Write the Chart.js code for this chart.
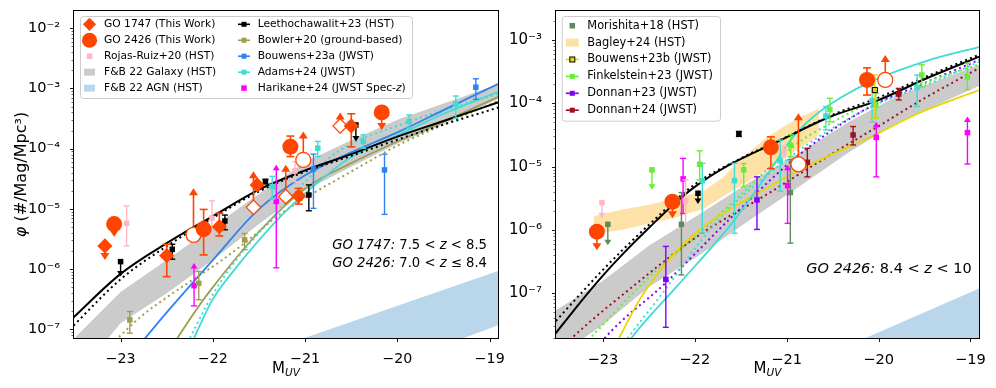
<!DOCTYPE html>
<html><head><meta charset="utf-8">
<script src="https://cdn.jsdelivr.net/npm/chart.js@4.4.1/dist/chart.umd.min.js"></script>
<style>
html,body{margin:0;padding:0;background:#fff;}
#wrap{position:relative;width:996px;height:388px;overflow:hidden;background:#fff;}
canvas{position:absolute;top:0;}
</style>
</head><body>
<div id="wrap">
<canvas id="c1" width="520" height="388" style="left:0"></canvas>
<canvas id="c2" width="496" height="388" style="left:500px"></canvas>
</div>
<script>
// ---------- axes ----------
const X_TICKS = [-23, -22, -21, -20, -19];
const L_XLIM = [-23.505, -18.91];
const L_YLIM_LOG = [-7.145, -1.713];
const R_XLIM = [-23.51, -18.907];
const R_YLIM_LOG = [-7.706, -2.542];

// ---------- LEFT panel points: [M_UV, phi, lower, upper, kind] ----------
// kind: 'e' error bar, 'u' upper limit (arrow down to lower), 'l' lower limit (arrow up to upper), 'ea' error bar with arrow on top
const L_GO1747 = [
  [-23.17, 2.42e-6, 1.42e-6, null, 'u'],
  [-22.50, 1.67e-6, 7.5e-7, 2.58e-6, 'e'],
  [-21.93, 5.07e-6, 3.55e-6, 8.5e-6, 'e'],
  [-21.52, 2.5e-5, null, null, ''],
  [-21.07, 1.64e-5, 1.2e-5, 2.19e-5, 'e'],
  [-20.50, 2.39e-4, 1.07e-4, 3.8e-4, 'e']
];
const L_GO1747_LIM = [
  [-21.56, 1.06e-5, null, 4.2e-5, 'l'],
  [-21.21, 1.6e-5, null, 5.4e-5, 'l'],
  [-20.62, 2.39e-4, null, 4.0e-4, 'l']
];
const L_GO2426 = [
  [-23.07, 5.6e-6, 3.4e-6, null, 'u'],
  [-22.10, 4.6e-6, 1.72e-6, 9.8e-6, 'e'],
  [-21.16, 1.08e-4, 7.4e-5, 1.62e-4, 'e'],
  [-20.17, 4.0e-4, 2.04e-4, null, 'u']
];
const L_GO2426_LIM = [
  [-22.21, 3.7e-6, null, 2.2e-5, 'l'],
  [-21.02, 6.5e-5, null, 1.92e-4, 'l']
];
const L_ROJAS = [
  [-22.935, 5.77e-6, 2.42e-6, 1.12e-5, 'e'],
  [-22.01, 7.0e-6, 3.05e-6, 1.36e-5, 'e'],
  [-21.11, 4.27e-5, 2.83e-5, 6.1e-5, 'e']
];
const L_LEETH = [
  [-23.0, 1.33e-6, 7.5e-7, null, 'u'],
  [-22.44, 2.13e-6, 1.46e-6, 2.58e-6, 'e'],
  [-21.87, 6.3e-6, 4.5e-6, 7.9e-6, 'e'],
  [-21.43, 2.84e-5, 2.6e-5, 3.1e-5, 'e'],
  [-20.96, 1.7e-5, 9.3e-6, 2.5e-5, 'e'],
  [-20.45, 2.48e-4, 1.32e-4, null, 'u']
];
const L_BOWLER = [
  [-22.9, 1.43e-7, 8.6e-8, 1.97e-7, 'e'],
  [-22.153, 5.8e-7, 3.1e-7, 9.1e-7, 'e'],
  [-21.656, 3.05e-6, 2.1e-6, 3.9e-6, 'e']
];
const L_BOUWENS23A = [
  [-20.91, 4.6e-5, 1.02e-5, 8.1e-5, 'e'],
  [-20.14, 4.44e-5, 8.1e-6, 8.1e-5, 'e'],
  [-19.15, 1.05e-3, 6.6e-4, 1.45e-3, 'e']
];
const L_ADAMS = [
  [-21.357, 2.34e-5, 1.45e-5, 3.47e-5, 'e'],
  [-20.863, 1.02e-4, 7.4e-5, 1.32e-4, 'e'],
  [-20.37, 1.32e-4, 1.02e-4, 1.7e-4, 'e'],
  [-19.872, 2.82e-4, 2.19e-4, 3.63e-4, 'e'],
  [-19.367, 5.53e-4, 3.2e-4, 7.5e-4, 'e']
];
const L_HARIKANE = [
  [-22.204, 5.3e-7, 2.45e-7, 1.26e-6, 'ea'],
  [-21.313, 1.33e-5, 1.05e-6, 5.4e-5, 'ea']
];

// ---------- LEFT panel fitted curves: [M_UV, log10 phi] ----------
const L_LEETH_FIT = [[-23.55,-6.86],[-23.0,-6.08],[-22.5,-5.57],[-22.0,-5.12],[-21.5,-4.68],[-21.0,-4.36],[-20.5,-4.09],[-20.0,-3.8],[-19.5,-3.54],[-18.85,-3.2]];
const L_LEETH_FIT2 = [[-23.55,-7.0],[-23.0,-6.17],[-22.5,-5.62],[-22.0,-5.15],[-21.5,-4.71],[-21.0,-4.38],[-20.5,-4.12],[-20.0,-3.85],[-19.5,-3.6],[-18.85,-3.29]];
const L_BOUWENS_FIT = [[-22.8,-7.27],[-22.5,-6.72],[-22.0,-5.85],[-21.5,-5.0],[-21.0,-4.44],[-20.5,-4.06],[-20.0,-3.73],[-19.5,-3.36],[-18.85,-2.88]];
const L_BOWLER_SCH = [[-22.45,-7.3],[-22.2,-6.72],[-22.0,-6.3],[-21.5,-5.38],[-21.0,-4.66],[-20.5,-4.24],[-20.0,-3.88],[-19.5,-3.55],[-18.85,-3.1]];
const L_BOWLER_DPL = [[-23.1,-7.25],[-22.78,-6.79],[-22.5,-6.47],[-22.2,-6.16],[-21.9,-5.85],[-21.6,-5.5],[-21.3,-5.12],[-21.0,-4.82],[-20.5,-4.38],[-20.0,-3.95],[-19.5,-3.6],[-18.85,-3.17]];
const L_ADAMS_SCH = [[-22.25,-7.3],[-22.0,-6.5],[-21.75,-5.98],[-21.5,-5.52],[-21.25,-5.1],[-21.0,-4.74],[-20.5,-4.14],[-20.0,-3.78],[-19.5,-3.42],[-18.85,-3.02]];
const L_ADAMS_DPL = [[-22.3,-7.3],[-22.0,-6.42],[-21.75,-5.85],[-21.5,-5.4],[-21.25,-4.97],[-21.0,-4.55],[-20.75,-4.17],[-20.5,-3.92],[-20.0,-3.62],[-19.5,-3.36],[-18.85,-3.06]];
// F&B 22 bands (log10 phi)
const L_GAL_X  = [-23.6, -23.0, -22.5, -22.0, -21.5, -21.0, -20.5, -20.0, -19.5, -18.85];
const L_GAL_HI = [-7.3, -6.38, -5.85, -5.3, -4.75, -4.22, -3.86, -3.52, -3.25, -2.9];
const L_GAL_LO = [-8.0, -6.9, -6.4, -5.85, -5.25, -4.69, -4.3, -3.92, -3.6, -3.13];
const L_AGN_X  = [-21.3, -18.85];
const L_AGN_HI = [-7.3, -6.0];
const L_AGN_LO = [-8.3, -6.9];

// ---------- RIGHT panel points ----------
const R_GO2426 = [
  [-23.065, 9.4e-7, 4.8e-7, null, 'u'],
  [-22.243, 2.8e-6, 1.53e-6, null, 'u'],
  [-21.172, 2.02e-5, 9.3e-6, 2.95e-5, 'e'],
  [-20.126, 2.34e-4, 1.35e-4, 3.63e-4, 'e']
];
const R_GO2426_LIM = [
  [-20.872, 1.09e-5, null, 6.95e-5, 'l'],
  [-19.927, 2.34e-4, null, 5.8e-4, 'l']
];
const R_MORISHITA = [
  [-22.946, 1.23e-6, 5.75e-7, null, 'u'],
  [-22.145, 1.23e-6, 1.95e-7, 3.9e-6, 'e'],
  [-20.96, 3.9e-6, 6.2e-7, 1.29e-5, 'e']
];
const R_BOUWENS23B = [
  [-20.04, 1.62e-4, 5.75e-5, 2.8e-4, 'e']
];
const R_FINKEL = [
  [-22.466, 8.9e-6, 4.3e-6, null, 'u'],
  [-21.947, 1.09e-5, 6.2e-6, 1.78e-5, 'e'],
  [-21.467, 8.9e-6, 4.8e-6, 1.12e-5, 'e'],
  [-20.955, 2.15e-5, 1.45e-5, 3.2e-5, 'e'],
  [-20.53, 8.0e-5, 5.1e-5, 1.2e-4, 'e'],
  [-20.03, 9.3e-5, 5.8e-5, 1.44e-4, 'e'],
  [-19.53, 2.8e-4, 1.8e-4, 4.05e-4, 'e'],
  [-19.033, 2.6e-4, 1.65e-4, 4.3e-4, 'e']
];
const R_DONNAN23 = [
  [-22.315, 1.66e-7, 2.9e-8, 5.5e-7, 'e'],
  [-21.323, 2.98e-6, 1.02e-6, 6.9e-6, 'e']
];
const R_DONNAN24 = [
  [-20.775, 1.17e-5, 6.9e-6, 1.95e-5, 'e'],
  [-20.277, 3.16e-5, 2.2e-5, 4.3e-5, 'e'],
  [-19.78, 1.4e-4, 1.13e-4, 1.72e-4, 'e']
];
const R_ROJAS = [
  [-23.01, 2.7e-6, 1.53e-6, null, 'u'],
  [-22.1, 2.9e-6, 1.0e-6, 6.2e-6, 'e'],
  [-21.03, 1.74e-5, 1.45e-5, 2.1e-5, 'e']
];
const R_LEETH = [
  [-21.965, 3.8e-6, 2.57e-6, null, 'u'],
  [-21.52, 3.28e-5, 3.0e-5, 3.6e-5, 'e']
];
const R_HARIKANE = [
  [-22.127, 6.4e-6, 1.82e-6, 1.35e-5, 'e'],
  [-20.99, 5.0e-6, 1.27e-6, 1.07e-5, 'ea'],
  [-20.025, 2.9e-5, 6.9e-6, 5.1e-5, 'ea'],
  [-19.033, 3.45e-5, 1.1e-5, 6.2e-5, 'ea']
];
const R_ADAMS = [
  [-21.918, 6.0e-6, 8.9e-7, 1.13e-5, 'e'],
  [-21.568, 6.0e-6, 8.9e-7, 1.13e-5, 'e'],
  [-21.07, 1.23e-5, 4.1e-6, 2.63e-5, 'e'],
  [-20.573, 6.3e-5, 3.8e-5, 8.9e-5, 'e'],
  [-20.07, 1.1e-4, 5.1e-5, 1.95e-4, 'e'],
  [-19.58, 1.78e-4, 8.9e-5, 2.8e-4, 'e']
];

// ---------- RIGHT panel curves [M_UV, log10 phi] ----------
const R_LEETH_FIT = [[-23.55,-7.7],[-23.25,-7.15],[-23.0,-6.72],[-22.75,-6.33],[-22.5,-5.97],[-22.25,-5.62],[-22.0,-5.32],[-21.62,-4.97],[-21.09,-4.6],[-20.54,-4.22],[-20.0,-3.95],[-19.5,-3.62],[-18.85,-3.23]];
const R_LEETH_FIT2 = [[-23.55,-7.5],[-23.25,-7.02],[-23.0,-6.63],[-22.5,-5.92],[-22.0,-5.28],[-21.5,-4.87],[-21.0,-4.53],[-20.5,-4.18],[-20.0,-3.91],[-19.5,-3.59],[-18.85,-3.2]];
const R_ADAMS_SCH = [[-22.75,-7.85],[-22.7,-7.73],[-22.2,-6.9],[-21.6,-5.9],[-21.2,-5.1],[-20.94,-4.55],[-20.7,-4.2],[-20.4,-3.9],[-20.04,-3.63],[-19.5,-3.34],[-18.85,-3.09]];
const R_ADAMS_DPL = [[-22.8,-7.85],[-22.73,-7.71],[-22.3,-6.9],[-21.95,-6.2],[-21.6,-5.62],[-21.23,-5.16],[-20.9,-4.78],[-20.5,-4.39],[-20.0,-4.0],[-19.5,-3.72],[-18.85,-3.31]];
const R_BOUWENS_FIT = [[-22.87,-7.85],[-22.83,-7.73],[-22.6,-7.1],[-22.3,-6.5],[-21.95,-6.0],[-21.6,-5.66],[-21.23,-5.35],[-20.87,-5.06],[-20.5,-4.8],[-20.04,-4.5],[-19.6,-4.18],[-18.85,-3.76]];
const R_FINKEL_FIT = [[-23.2,-7.8],[-23.14,-7.71],[-22.5,-6.75],[-21.95,-6.05],[-21.6,-5.58],[-20.87,-4.62],[-20.5,-4.3],[-20.15,-4.03],[-19.5,-3.67],[-18.85,-3.36]];
const R_DONNAN23_FIT = [[-23.05,-7.85],[-22.98,-7.71],[-22.32,-6.84],[-21.6,-5.8],[-20.87,-4.82],[-20.15,-4.1],[-19.5,-3.68],[-18.85,-3.28]];
const R_DONNAN24_FIT = [[-23.4,-7.8],[-23.34,-7.71],[-22.68,-6.9],[-21.95,-6.08],[-21.23,-5.45],[-20.51,-4.8],[-20.0,-4.36],[-19.5,-3.92],[-18.85,-3.4]];
const R_GAL_X  = [-23.6, -23.0, -22.5, -21.95, -21.41, -20.87, -20.33, -19.79, -18.85];
const R_GAL_HI = [-7.35, -6.8, -6.25, -5.75, -5.25, -4.79, -4.3, -3.88, -3.36];
const R_GAL_LO = [-8.1, -7.5, -6.9, -6.4, -5.85, -5.32, -4.78, -4.3, -3.69];
const R_AGN_X  = [-20.4, -18.85];
const R_AGN_HI = [-7.87, -6.89];
const R_AGN_LO = [-9.5, -8.5];
const R_BAGLEY_X  = [-23.1, -22.8, -22.5, -22.2, -21.9, -21.7, -21.5, -21.2, -20.9, -20.65];
const R_BAGLEY_HI = [-5.78, -5.68, -5.6, -5.5, -5.38, -5.18, -4.88, -4.52, -4.25, -4.08];
const R_BAGLEY_LO = [-6.06, -6.0, -5.9, -5.8, -5.66, -5.48, -5.3, -5.05, -4.75, -4.5];

// ---------- colours ----------
const C = {
  go:'#ff4500', rojas:'#ffb6c1', leeth:'#000000', bowler:'#9e9e4e', bouwensA:'#2f83f0',
  adams:'#3fdcd4', harikane:'#ff00ff', gal:'rgba(165,165,165,0.58)', agn:'#b9d6ea',
  morishita:'#5d8b5d', bagley:'rgba(253,200,95,0.55)', bouwensB:'#e8d500', finkel:'#66ee33',
  donnan23:'#8000ff', donnan24:'#a0101e'
};
const FONT = "'DejaVu Sans', sans-serif";
Chart.defaults.font.family = FONT;
Chart.defaults.color = '#000';

// ---------- builders ----------
function band(x, hi, lo, color) {
  return [
    {data: x.map((v,i)=>({x:v, y:Math.pow(10,hi[i])})), borderWidth:0, borderColor:'transparent', pointRadius:0, fill:'+1', backgroundColor:color},
    {data: x.map((v,i)=>({x:v, y:Math.pow(10,lo[i])})), borderWidth:0, borderColor:'transparent', pointRadius:0, fill:false}
  ];
}
function curve(rows, color, dotted, lw) {
  return {data: rows.map(r=>({x:r[0], y:Math.pow(10,r[1])})), borderColor:color, borderWidth: lw||1.8,
    borderDash: dotted ? [2,3.3] : [], pointRadius:0, fill:false, cubicInterpolationMode:'monotone'};
}
function points(rows, st) {
  return {data: rows.map(r=>({x:r[0], y:r[1]})), errs: rows, showLine:false,
    pointStyle: st.style || 'rect', pointRadius: st.r || 3.9,
    pointBackgroundColor: st.fill, pointBorderColor: st.edge || st.fill, pointBorderWidth: st.bw || 0,
    errColor: st.ecolor || st.edge || st.fill, errWidth: st.ew || 1.4, capW: st.cap == null ? 3 : st.cap,
    headW: st.hw || 3.5, headH: st.hh || 5.5};
}
function ordered(list) { list.forEach((d,i)=> d.order = list.length - i); return list; }

// ---------- plugins ----------
const errPlugin = {
  id: 'errbars',
  beforeDatasetDraw(chart, args) {
    const ds = chart.data.datasets[args.index];
    if (!ds.errs) return;
    const ctx = chart.ctx, a = chart.chartArea, xs = chart.scales.x, ys = chart.scales.y;
    ctx.save();
    ctx.beginPath(); ctx.rect(a.left, a.top, a.right-a.left, a.bottom-a.top); ctx.clip();
    ctx.strokeStyle = ds.errColor; ctx.fillStyle = ds.errColor; ctx.lineWidth = ds.errWidth;
    const c = ds.capW, hw = ds.headW, hh = ds.headH;
    ds.errs.forEach(r => {
      const kind = r[4]; if (!kind) return;
      const px = xs.getPixelForValue(r[0]), py = ys.getPixelForValue(r[1]);
      const line = (y1,y2)=>{ctx.beginPath(); ctx.moveTo(px,y1); ctx.lineTo(px,y2); ctx.stroke();};
      const cap = yy=>{ if(!c) return; ctx.beginPath(); ctx.moveTo(px-c,yy); ctx.lineTo(px+c,yy); ctx.stroke();};
      const head = (yy,dir)=>{ctx.beginPath(); ctx.moveTo(px,yy); ctx.lineTo(px-hw,yy-dir*hh); ctx.lineTo(px+hw,yy-dir*hh); ctx.closePath(); ctx.fill();};
      if (kind === 'e') {
        const lo = ys.getPixelForValue(r[2]), hi = ys.getPixelForValue(r[3]);
        line(lo,hi); cap(lo); cap(hi);
      } else if (kind === 'ea') {
        const lo = ys.getPixelForValue(r[2]), hi = ys.getPixelForValue(r[3]);
        line(lo,hi+hh*0.5); cap(lo); head(hi,-1);
      } else if (kind === 'u') {
        const t = ys.getPixelForValue(r[2]);
        line(py, t-hh*0.5); head(t, 1);
      } else if (kind === 'l') {
        const t = ys.getPixelForValue(r[3]);
        line(py, t+hh*0.5); head(t, -1);
      }
    });
    ctx.restore();
  }
};

function fontOf(size, italic) { return (italic ? 'italic ' : '') + size + 'px ' + FONT; }
function richText(ctx, parts, x, y, size, align) {
  let w = 0;
  parts.forEach(p => { ctx.font = fontOf(size*(p[2]||1), p[1]); w += ctx.measureText(p[0]).width; });
  let sx = align === 'right' ? x - w : align === 'center' ? x - w/2 : x;
  ctx.textAlign = 'left';
  parts.forEach(p => { ctx.font = fontOf(size*(p[2]||1), p[1]); ctx.fillText(p[0], sx, y + (p[3]||0)); sx += ctx.measureText(p[0]).width; });
}
function drawMarker(ctx, m, cx, cy) {
  ctx.save();
  ctx.fillStyle = m.color; ctx.strokeStyle = m.color;
  if (m.type === 'diamond') {
    ctx.beginPath(); ctx.moveTo(cx, cy-m.r); ctx.lineTo(cx+m.r, cy); ctx.lineTo(cx, cy+m.r); ctx.lineTo(cx-m.r, cy); ctx.closePath(); ctx.fill();
  } else if (m.type === 'circle') {
    ctx.beginPath(); ctx.arc(cx, cy, m.r, 0, Math.PI*2); ctx.fill();
  } else if (m.type === 'square') {
    ctx.fillRect(cx - m.s/2, cy - m.s/2, m.s, m.s);
  } else if (m.type === 'patch') {
    ctx.fillRect(cx - m.w/2, cy - m.h/2, m.w, m.h);
  } else if (m.type === 'errbar') {
    ctx.lineWidth = 1.6;
    ctx.beginPath(); ctx.moveTo(cx - m.len/2, cy); ctx.lineTo(cx + m.len/2, cy); ctx.stroke();
    ctx.fillRect(cx - m.s/2, cy - m.s/2, m.s, m.s);
    if (m.edge) { ctx.strokeStyle = m.edge; ctx.lineWidth = 1; ctx.strokeRect(cx - m.s/2, cy - m.s/2, m.s, m.s); }
  }
  ctx.restore();
}
function roundRect(ctx, x, y, w, h, r) {
  ctx.beginPath();
  ctx.moveTo(x+r, y); ctx.lineTo(x+w-r, y); ctx.arcTo(x+w, y, x+w, y+r, r);
  ctx.lineTo(x+w, y+h-r); ctx.arcTo(x+w, y+h, x+w-r, y+h, r);
  ctx.lineTo(x+r, y+h); ctx.arcTo(x, y+h, x, y+h-r, r);
  ctx.lineTo(x, y+r); ctx.arcTo(x, y, x+r, y, r); ctx.closePath();
}
function makeDecor(cfg) {
  return {
    id: 'decor',
    afterDraw(chart) {
      const ctx = chart.ctx, a = chart.chartArea, xs = chart.scales.x, ys = chart.scales.y;
      ctx.save();
      // frame
      ctx.strokeStyle = '#000'; ctx.lineWidth = 1;
      const L = Math.round(a.left) - 0.5, T = Math.round(a.top) - 0.5, R = Math.round(a.right) + 0.5, B = Math.round(a.bottom) + 0.5;
      ctx.strokeRect(L, T, R - L, B - T);
      // ticks
      ctx.lineWidth = 0.9;
      xs.ticks.forEach(t => { const p = Math.round(xs.getPixelForValue(t.value)) + 0.5; ctx.beginPath(); ctx.moveTo(p, B); ctx.lineTo(p, B + 3.5); ctx.stroke(); });
      ys.ticks.forEach(t => {
        const p = Math.round(ys.getPixelForValue(t.value)) + 0.5;
        if (p < T - 0.1 || p > B + 0.1) return;
        const len = t.major ? 3.5 : 2;
        ctx.lineWidth = t.major ? 0.9 : 0.6;
        ctx.beginPath(); ctx.moveTo(L, p); ctx.lineTo(L - len, p); ctx.stroke();
      });
      // legend
      const lg = cfg.legend;
      const [bx, by, bw, bh] = lg.box;
      roundRect(ctx, bx + 0.5, by + 0.5, bw, bh, 3);
      ctx.fillStyle = 'rgba(255,255,255,0.8)'; ctx.fill();
      ctx.strokeStyle = '#cccccc'; ctx.lineWidth = 1; ctx.stroke();
      ctx.textBaseline = 'middle';
      lg.entries.forEach(e => {
        const cy = lg.rowY0 + e.row * lg.rowH;
        drawMarker(ctx, e.m, lg.colMX[e.col], cy);
        ctx.fillStyle = '#000';
        richText(ctx, e.parts, lg.colTX[e.col], cy, lg.size, 'left');
      });
      // annotation
      ctx.fillStyle = '#000';
      cfg.annot.lines.forEach(l => richText(ctx, l.parts, cfg.annot.x, l.y, cfg.annot.size, 'right'));
      // x title
      richText(ctx, [['M'], ['UV', true, 0.7, 4]], (a.left + a.right)/2, cfg.xTitleY, 15, 'center');
      // y title
      if (cfg.yTitle) {
        ctx.translate(cfg.yTitle.x, (a.top + a.bottom)/2);
        ctx.rotate(-Math.PI/2);
        richText(ctx, [['φ', true], [' (#/Mag/Mpc³)']], 0, 0, 16, 'center');
      }
      ctx.restore();
    }
  };
}

const SUP = {'-':'⁻','0':'⁰','1':'¹','2':'²','3':'³','4':'⁴','5':'⁵','6':'⁶','7':'⁷','8':'⁸','9':'⁹'};
function logTicks(scale) {
  const t = [];
  const lo = Math.floor(Math.log10(scale.min)), hi = Math.ceil(Math.log10(scale.max));
  for (let e = lo; e <= hi; e++) for (let k = 1; k <= 9; k++) {
    const v = k * Math.pow(10, e);
    if (v >= scale.min * 0.9999 && v <= scale.max * 1.0001) t.push({value: v, major: k === 1});
  }
  scale.ticks = t;
}
function makeOptions(p) {
  return {
    responsive: false, animation: false, devicePixelRatio: 1, events: [],
    layout: {padding: {left: 0, top: 11, right: p.padR, bottom: 0}},
    plugins: {legend: {display: false}, tooltip: {enabled: false}},
    scales: {
      x: {type: 'linear', min: p.xlim[0], max: p.xlim[1], bounds: 'data',
        grid: {display: false}, border: {display: false},
        ticks: {autoSkip: false, maxRotation: 0, padding: 5, color: '#000', font: {size: p.xFont},
          callback: v => (v < 0 ? '\u2212' + Math.abs(v) : String(v))},
        afterBuildTicks: s => { s.ticks = X_TICKS.map(v => ({value: v})); },
        afterFit: s => { s.height = 50; s.paddingLeft = 0; s.paddingRight = 0; }},
      y: {type: 'logarithmic', min: Math.pow(10, p.ylog[0]), max: Math.pow(10, p.ylog[1]), bounds: 'data',
        grid: {display: false}, border: {display: false},
        ticks: {autoSkip: false, padding: 6, color: '#000', font: {size: p.yFont},
          callback: (v, i, ticks) => ticks[i] && ticks[i].major ? '10' + String(Math.round(Math.log10(v))).split('').map(ch => SUP[ch]).join('') : ''},
        afterBuildTicks: logTicks,
        afterFit: s => { s.width = p.yW; s.paddingTop = 0; s.paddingBottom = 0; }}
    }
  };
}

// ---------- LEFT chart ----------
const leftSets = ordered([
  ...band(L_AGN_X, L_AGN_HI, L_AGN_LO, C.agn),
  ...band(L_GAL_X, L_GAL_HI, L_GAL_LO, C.gal),
  curve(L_BOWLER_DPL, C.bowler, true, 2),
  curve(L_BOWLER_SCH, C.bowler, false, 1.8),
  curve(L_ADAMS_DPL, C.adams, true, 2),
  curve(L_ADAMS_SCH, C.adams, false, 1.8),
  curve(L_BOUWENS_FIT, C.bouwensA, false, 1.8),
  curve(L_LEETH_FIT2, C.leeth, true, 2),
  curve(L_LEETH_FIT, C.leeth, false, 2),
  points(L_HARIKANE, {fill: C.harikane}),
  points(L_ADAMS, {fill: C.adams}),
  points(L_BOUWENS23A, {fill: C.bouwensA}),
  points(L_BOWLER, {fill: C.bowler}),
  points(L_LEETH, {fill: C.leeth}),
  points(L_ROJAS, {fill: C.rojas}),
  points(L_GO2426_LIM, {style: 'circle', r: 7.5, fill: '#ffffff', edge: C.go, bw: 1.3, ecolor: C.go, ew: 1.6, cap: 4, hw: 4.5, hh: 7}),
  points(L_GO2426, {style: 'circle', r: 8, fill: C.go, ew: 1.6, cap: 4, hw: 4.5, hh: 7}),
  points(L_GO1747_LIM, {style: 'rectRot', r: 7.2, fill: '#ffffff', edge: C.go, bw: 1.3, ecolor: C.go, ew: 1.6, cap: 4, hw: 4.5, hh: 7}),
  points(L_GO1747, {style: 'rectRot', r: 7.6, fill: C.go, ew: 1.6, cap: 4, hw: 4.5, hh: 7})
]);
const leftDecor = makeDecor({
  legend: {box: [80, 16, 332, 82], rowY0: 24.3, rowH: 15.95, colMX: [89.5, 244], colTX: [104, 257.7], size: 10.7,
    entries: [
      {col: 0, row: 0, m: {type: 'diamond', color: C.go, r: 6.6}, parts: [['GO 1747 (This Work)']]},
      {col: 0, row: 1, m: {type: 'circle', color: C.go, r: 7.6}, parts: [['GO 2426 (This Work)']]},
      {col: 0, row: 2, m: {type: 'square', color: C.rojas, s: 5.5}, parts: [['Rojas-Ruiz+20 (HST)']]},
      {col: 0, row: 3, m: {type: 'patch', color: C.gal, w: 11, h: 7}, parts: [['F&B 22 Galaxy (HST)']]},
      {col: 0, row: 4, m: {type: 'patch', color: C.agn, w: 11, h: 7}, parts: [['F&B 22 AGN (HST)']]},
      {col: 1, row: 0, m: {type: 'errbar', color: C.leeth, s: 5, len: 12}, parts: [['Leethochawalit+23 (HST)']]},
      {col: 1, row: 1, m: {type: 'errbar', color: C.bowler, s: 5, len: 12}, parts: [['Bowler+20 (ground-based)']]},
      {col: 1, row: 2, m: {type: 'errbar', color: C.bouwensA, s: 5, len: 12}, parts: [['Bouwens+23a (JWST)']]},
      {col: 1, row: 3, m: {type: 'errbar', color: C.adams, s: 5, len: 12}, parts: [['Adams+24 (JWST)']]},
      {col: 1, row: 4, m: {type: 'square', color: C.harikane, s: 5.5}, parts: [['Harikane+24 (JWST Spec-'], ['z', true], [')']]}
    ]},
  annot: {x: 487, size: 13.2, lines: [
    {y: 245.7, parts: [['GO 1747:', true], [' 7.5 < '], ['z', true], [' < 8.5']]},
    {y: 264, parts: [['GO 2426:', true], [' 7.0 < '], ['z', true], [' ≤ 8.4']]}
  ]},
  xTitleY: 369,
  yTitle: {x: 22}
});
new Chart(document.getElementById('c1'), {
  type: 'line',
  data: {datasets: leftSets},
  options: makeOptions({padR: 22, xlim: L_XLIM, ylog: L_YLIM_LOG, yW: 74, xFont: 14.2, yFont: 14.6}),
  plugins: [errPlugin, leftDecor]
});

// ---------- RIGHT chart ----------
const rightSets = ordered([
  ...band(R_AGN_X, R_AGN_HI, R_AGN_LO, C.agn),
  ...band(R_GAL_X, R_GAL_HI, R_GAL_LO, C.gal),
  ...band(R_BAGLEY_X, R_BAGLEY_HI, R_BAGLEY_LO, C.bagley),
  curve(R_DONNAN24_FIT, C.donnan24, true, 2),
  curve(R_DONNAN23_FIT, C.donnan23, true, 2),
  curve(R_FINKEL_FIT, C.finkel, true, 2),
  curve(R_ADAMS_DPL, C.adams, true, 2),
  curve(R_BOUWENS_FIT, C.bouwensB, false, 1.8),
  curve(R_ADAMS_SCH, C.adams, false, 1.8),
  curve(R_LEETH_FIT2, C.leeth, true, 2),
  curve(R_LEETH_FIT, C.leeth, false, 2),
  points(R_MORISHITA, {fill: C.morishita}),
  points(R_HARIKANE, {fill: C.harikane}),
  points(R_ROJAS, {fill: C.rojas}),
  points(R_LEETH, {fill: C.leeth}),
  points(R_ADAMS, {fill: C.adams}),
  points(R_DONNAN23, {fill: C.donnan23}),
  points(R_DONNAN24, {fill: C.donnan24}),
  points(R_FINKEL, {fill: C.finkel}),
  points(R_BOUWENS23B, {fill: C.bouwensB, edge: '#000', bw: 1, r: 3.6, ecolor: C.bouwensB}),
  points(R_GO2426_LIM, {style: 'circle', r: 7.5, fill: '#ffffff', edge: C.go, bw: 1.3, ecolor: C.go, ew: 1.6, cap: 4, hw: 4.5, hh: 7}),
  points(R_GO2426, {style: 'circle', r: 8, fill: C.go, ew: 1.6, cap: 4, hw: 4.5, hh: 7})
]);
const rightDecor = makeDecor({
  legend: {box: [61.7, 16, 158.3, 104.7], rowY0: 25.7, rowH: 16.9, colMX: [72.3], colTX: [87.3], size: 11.4,
    entries: [
      {col: 0, row: 0, m: {type: 'square', color: C.morishita, s: 5.5}, parts: [['Morishita+18 (HST)']]},
      {col: 0, row: 1, m: {type: 'patch', color: C.bagley, w: 13, h: 8}, parts: [['Bagley+24 (HST)']]},
      {col: 0, row: 2, m: {type: 'errbar', color: C.bouwensB, s: 5, len: 13, edge: '#000'}, parts: [['Bouwens+23b (JWST)']]},
      {col: 0, row: 3, m: {type: 'errbar', color: C.finkel, s: 5, len: 13}, parts: [['Finkelstein+23 (JWST)']]},
      {col: 0, row: 4, m: {type: 'errbar', color: C.donnan23, s: 5, len: 13}, parts: [['Donnan+23 (JWST)']]},
      {col: 0, row: 5, m: {type: 'errbar', color: C.donnan24, s: 5, len: 13}, parts: [['Donnan+24 (JWST)']]}
    ]},
  annot: {x: 471.7, size: 14.5, lines: [
    {y: 269.3, parts: [['GO 2426:', true], [' 8.4 < '], ['z', true], [' < 10']]}
  ]},
  xTitleY: 369,
  yTitle: null
});
new Chart(document.getElementById('c2'), {
  type: 'line',
  data: {datasets: rightSets},
  options: makeOptions({padR: 17, xlim: R_XLIM, ylog: R_YLIM_LOG, yW: 56, xFont: 14.6, yFont: 15}),
  plugins: [errPlugin, rightDecor]
});
</script>
</body></html>
